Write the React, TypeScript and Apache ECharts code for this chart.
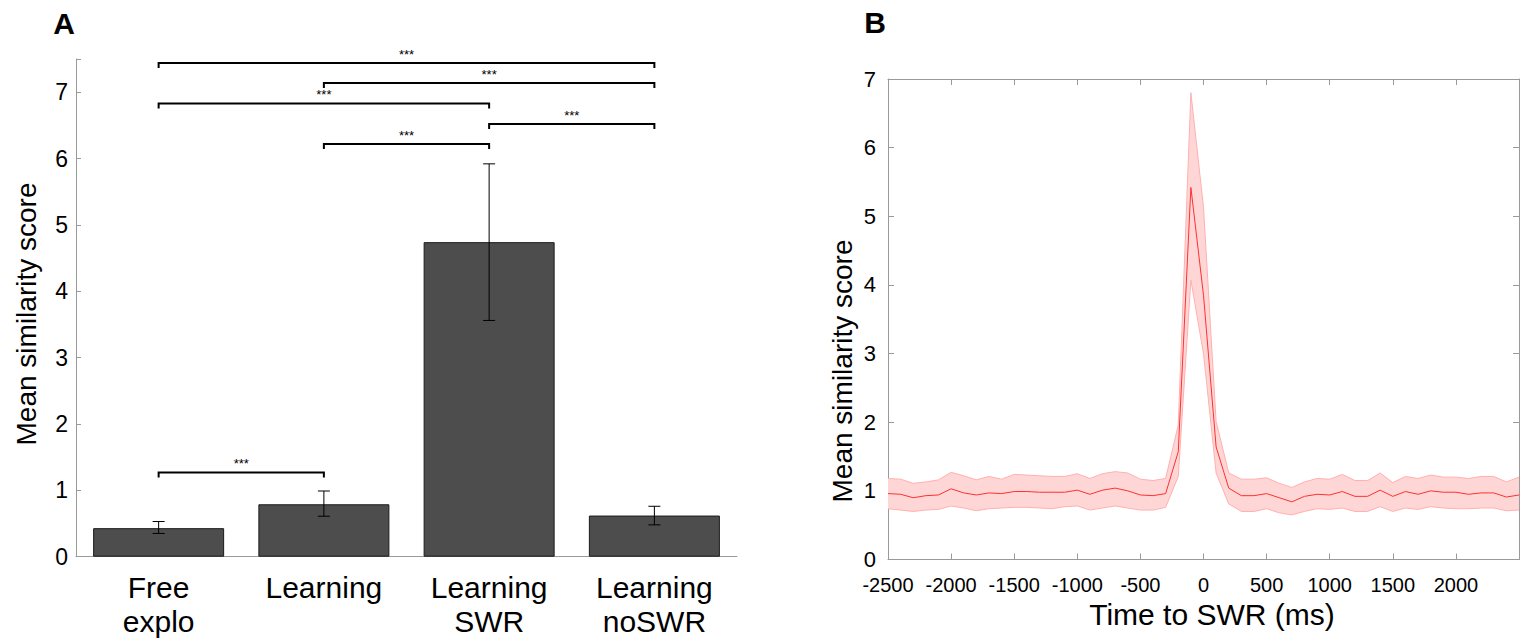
import React, { useEffect, useRef } from "react";
import * as echarts from "echarts";

// ---------- Panel A data ----------
const categories = ["Free\nexplo", "Learning", "Learning\nSWR", "Learning\nnoSWR"];
const barMeans = [0.43, 0.79, 4.74, 0.62];
const errLow = [0.35, 0.61, 3.56, 0.48];
const errHigh = [0.53, 0.99, 5.92, 0.76];
// significance brackets (category index from / to, height in score units)
const bracketFrom = [0, 1, 0, 2, 1, 0];
const bracketTo = [3, 3, 2, 3, 2, 1];
const bracketLevel = [7.44, 7.14, 6.83, 6.52, 6.22, 1.27];
const bracketLabel = ["***", "***", "***", "***", "***", "***"];

// ---------- Panel B data ----------
const timesMs = [
  -2500, -2400, -2300, -2200, -2100, -2000, -1900, -1800, -1700, -1600, -1500,
  -1400, -1300, -1200, -1100, -1000, -900, -800, -700, -600, -500, -400, -300,
  -200, -100, 0, 100, 200, 300, 400, 500, 600, 700, 800, 900, 1000, 1100, 1200,
  1300, 1400, 1500, 1600, 1700, 1800, 1900, 2000, 2100, 2200, 2300, 2400, 2500,
];
const meanScore = [
  0.96, 0.95, 0.9, 0.93, 0.94, 1.03, 0.97, 0.94, 0.97, 0.96, 0.99, 0.99, 0.98,
  0.98, 0.98, 1.01, 0.95, 1.01, 1.04, 1.0, 0.94, 0.93, 0.96, 1.57, 5.42, 3.85,
  1.64, 1.04, 0.93, 0.93, 0.96, 0.9, 0.84, 0.92, 0.95, 0.94, 0.99, 0.92, 0.92,
  1.01, 0.92, 0.99, 0.95, 1.0, 0.98, 0.98, 0.95, 0.97, 0.97, 0.91, 0.94,
];
const upperScore = [
  1.18, 1.17, 1.11, 1.13, 1.16, 1.27, 1.22, 1.16, 1.21, 1.17, 1.24, 1.23, 1.22,
  1.21, 1.21, 1.25, 1.18, 1.25, 1.28, 1.26, 1.17, 1.15, 1.18, 1.96, 6.8, 5.13,
  2.01, 1.26, 1.17, 1.17, 1.19, 1.11, 1.05, 1.13, 1.18, 1.17, 1.24, 1.15, 1.15,
  1.26, 1.12, 1.21, 1.18, 1.23, 1.2, 1.2, 1.18, 1.21, 1.21, 1.13, 1.2,
];
const lowerScore = [
  0.74, 0.72, 0.7, 0.72, 0.73, 0.78, 0.75, 0.71, 0.74, 0.75, 0.76, 0.76, 0.75,
  0.74, 0.77, 0.78, 0.72, 0.75, 0.78, 0.75, 0.72, 0.72, 0.76, 1.21, 4.07, 3.0,
  1.26, 0.81, 0.7, 0.7, 0.74, 0.68, 0.65, 0.7, 0.74, 0.73, 0.75, 0.7, 0.7, 0.77,
  0.7, 0.75, 0.73, 0.77, 0.75, 0.74, 0.74, 0.75, 0.75, 0.71, 0.72,
];

const FONT = "'Liberation Sans', Arial, Helvetica, sans-serif";
const AXIS_GRAY = "#9a9a9a";

export default function App() {
  const ref = useRef<HTMLDivElement>(null);

  useEffect(() => {
    if (!ref.current) return;
    const chart = echarts.init(ref.current, null, { renderer: "svg" });

    const errData = categories.map((_, i) => [i, errLow[i], errHigh[i]]);
    const bracketData = bracketFrom.map((f, i) => [f, bracketTo[i], bracketLevel[i]]);
    const meanData = timesMs.map((t, i) => [t, meanScore[i]]);

    const option: any = {
      animation: false,
      backgroundColor: "#fff",
      textStyle: { fontFamily: FONT },
      grid: [
        { left: 76, top: 59, width: 661, height: 497.7 },
        { left: 888, top: 79, width: 631.3, height: 480.5 },
      ],
      xAxis: [
        {
          type: "category",
          gridIndex: 0,
          data: categories,
          axisLine: { lineStyle: { color: AXIS_GRAY, width: 1 } },
          axisTick: { show: false },
          axisLabel: {
            color: "#000",
            fontSize: 30,
            fontFamily: FONT,
            lineHeight: 34,
            margin: 14,
            interval: 0,
            verticalAlign: "top",
          },
          splitLine: { show: false },
        },
        {
          type: "value",
          gridIndex: 1,
          min: -2500,
          max: 2500,
          interval: 500,
          position: "bottom",
          axisLine: { onZero: false, lineStyle: { color: AXIS_GRAY, width: 1 } },
          axisTick: { inside: true, length: 6, lineStyle: { color: AXIS_GRAY } },
          axisLabel: {
            color: "#000",
            fontSize: 20,
            fontFamily: FONT,
            margin: 15,
            formatter: (v: number) => (v === 2500 ? "" : String(v)),
          },
          splitLine: { show: false },
        },
        {
          type: "value",
          gridIndex: 1,
          min: -2500,
          max: 2500,
          interval: 500,
          position: "top",
          axisLine: { onZero: false, lineStyle: { color: AXIS_GRAY, width: 1 } },
          axisTick: { inside: true, length: 6, lineStyle: { color: AXIS_GRAY } },
          axisLabel: { show: false },
          splitLine: { show: false },
        },
      ],
      yAxis: [
        {
          type: "value",
          gridIndex: 0,
          min: 0,
          max: 7.5,
          interval: 1,
          axisLine: { show: true, lineStyle: { color: AXIS_GRAY, width: 1 } },
          axisTick: { show: true, inside: true, length: 5, lineStyle: { color: AXIS_GRAY } },
          axisLabel: {
            color: "#000",
            fontSize: 23,
            fontFamily: FONT,
            margin: 8,
            formatter: (v: number) => (Number.isInteger(v) ? String(v) : ""),
          },
          splitLine: { show: false },
        },
        {
          type: "value",
          gridIndex: 1,
          min: 0,
          max: 7,
          interval: 1,
          position: "left",
          axisLine: { show: true, onZero: false, lineStyle: { color: AXIS_GRAY, width: 1 } },
          axisTick: { show: true, inside: true, length: 6, lineStyle: { color: AXIS_GRAY } },
          axisLabel: { color: "#000", fontSize: 22, fontFamily: FONT, margin: 12 },
          splitLine: { show: false },
        },
        {
          type: "value",
          gridIndex: 1,
          min: 0,
          max: 7,
          interval: 1,
          position: "right",
          axisLine: { show: true, onZero: false, lineStyle: { color: AXIS_GRAY, width: 1 } },
          axisTick: { show: true, inside: true, length: 6, lineStyle: { color: AXIS_GRAY } },
          axisLabel: { show: false },
          splitLine: { show: false },
        },
      ],
      series: [
        {
          type: "bar",
          xAxisIndex: 0,
          yAxisIndex: 0,
          data: barMeans,
          barWidth: 131,
          itemStyle: { color: "#4d4d4d", borderColor: "#1a1a1a", borderWidth: 1 },
          z: 2,
        },
        {
          type: "custom",
          xAxisIndex: 0,
          yAxisIndex: 0,
          data: errData,
          z: 3,
          renderItem: (params: any, api: any) => {
            const x = api.value(0);
            const lo = api.coord([x, api.value(1)]);
            const hi = api.coord([x, api.value(2)]);
            const hw = 6;
            const st = { stroke: "#000", lineWidth: 1 };
            return {
              type: "group",
              children: [
                { type: "line", shape: { x1: lo[0], y1: lo[1], x2: hi[0], y2: hi[1] }, style: st },
                { type: "line", shape: { x1: lo[0] - hw, y1: lo[1], x2: lo[0] + hw, y2: lo[1] }, style: st },
                { type: "line", shape: { x1: hi[0] - hw, y1: hi[1], x2: hi[0] + hw, y2: hi[1] }, style: st },
              ],
            };
          },
        },
        {
          type: "custom",
          xAxisIndex: 0,
          yAxisIndex: 0,
          data: bracketData,
          z: 4,
          clip: false,
          renderItem: (params: any, api: any) => {
            const y = api.value(2);
            const p1 = api.coord([api.value(0), y]);
            const p2 = api.coord([api.value(1), y]);
            const label = bracketLabel[params.dataIndex];
            return {
              type: "group",
              children: [
                {
                  type: "polyline",
                  shape: {
                    points: [
                      [p1[0], p1[1] + 5],
                      [p1[0], p1[1]],
                      [p2[0], p2[1]],
                      [p2[0], p2[1] + 5],
                    ],
                  },
                  style: { stroke: "#000", lineWidth: 2, fill: null },
                },
                {
                  type: "text",
                  x: (p1[0] + p2[0]) / 2,
                  y: p1[1] - 2,
                  style: {
                    text: label,
                    fontSize: 13,
                    fontFamily: FONT,
                    fill: "#000",
                    align: "center",
                    verticalAlign: "bottom",
                  },
                },
              ],
            };
          },
        },
        {
          // confidence band: one polygon built from the upper/lower arrays
          type: "custom",
          xAxisIndex: 1,
          yAxisIndex: 1,
          data: [[timesMs[0], meanScore[0]]],
          z: 2,
          renderItem: (params: any, api: any) => {
            const up = timesMs.map((t, i) => api.coord([t, upperScore[i]]));
            const lo = timesMs.map((t, i) => api.coord([t, lowerScore[i]]));
            const poly = up.concat(lo.slice().reverse());
            return {
              type: "group",
              children: [
                { type: "polygon", shape: { points: poly }, style: { fill: "#ffd6d6", stroke: null } },
                { type: "polyline", shape: { points: up }, style: { stroke: "#ffb0b0", lineWidth: 1, fill: null } },
                { type: "polyline", shape: { points: lo }, style: { stroke: "#ffb0b0", lineWidth: 1, fill: null } },
              ],
            };
          },
        },
        {
          type: "line",
          xAxisIndex: 1,
          yAxisIndex: 1,
          data: meanData,
          symbol: "none",
          lineStyle: { color: "#ff3030", width: 1 },
          z: 3,
        },
      ],
      graphic: [
        {
          type: "text",
          x: 64,
          y: 23,
          style: { text: "A", fontSize: 30, fontWeight: "bold", fontFamily: FONT, fill: "#000", align: "center", verticalAlign: "middle" },
        },
        {
          type: "text",
          x: 875,
          y: 22,
          style: { text: "B", fontSize: 30, fontWeight: "bold", fontFamily: FONT, fill: "#000", align: "center", verticalAlign: "middle" },
        },
        {
          type: "text",
          x: 26,
          y: 314,
          rotation: Math.PI / 2,
          style: { text: "Mean similarity score", fontSize: 28, fontFamily: FONT, fill: "#000", align: "center", verticalAlign: "middle" },
        },
        {
          type: "text",
          x: 842,
          y: 371,
          rotation: Math.PI / 2,
          style: { text: "Mean similarity score", fontSize: 28, fontFamily: FONT, fill: "#000", align: "center", verticalAlign: "middle" },
        },
        {
          type: "text",
          x: 1212,
          y: 614,
          style: { text: "Time to SWR (ms)", fontSize: 30, fontFamily: FONT, fill: "#000", align: "center", verticalAlign: "middle" },
        },
      ],
    };

    chart.setOption(option);
    return () => chart.dispose();
  }, []);

  return (
    <div
      ref={ref}
      style={{ position: "absolute", left: 0, top: 0, width: 1522, height: 641, background: "#fff" }}
    />
  );
}
